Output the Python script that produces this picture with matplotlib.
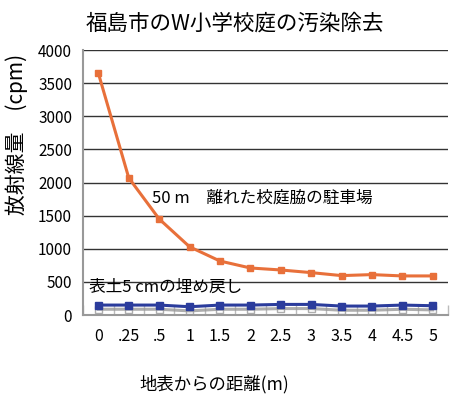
import numpy as np
import matplotlib
matplotlib.use("Agg")
import matplotlib.pyplot as plt
import matplotlib.patheffects as pe

plt.rcParams['font.family'] = ['Noto Sans CJK JP', 'DejaVu Sans']

# datos
distancias = ["0", ".25", ".5", "1", "1.5", "2", "2.5", "3", "3.5", "4", "4.5", "5"]
estacionamiento = [3650, 2070, 1450, 1030, 815, 710, 680, 640, 595, 610, 590, 590]
relleno = [150, 150, 150, 125, 150, 150, 160, 160, 135, 135, 150, 140]

titulo = "福島市のW小学校庭の汚染除去"
nota_naranja = "50 m　離れた校庭脇の駐車場"
nota_azul = "表土5 cmの埋め戻し"

fig = plt.figure(figsize=(4.52, 3.99), dpi=100)
ax = fig.add_axes([0.184, 0.2105, 0.807, 0.664])

x = np.arange(len(distancias))

# líneas de cuadrícula horizontales
ax.set_ylim(0, 4000)
ax.set_yticks(np.arange(0, 4001, 500))
ax.grid(axis='y', color='#333333', linewidth=1.0)
ax.set_axisbelow(True)

ax.plot(x, estacionamiento, color='#E8703A', linewidth=2.2, marker='s',
        markersize=5, zorder=3)
ax.plot(x, relleno, color='#2B3C9C', linewidth=2.2, marker='s',
        markersize=5, zorder=3,
        path_effects=[pe.SimpleLineShadow(offset=(0, -3), shadow_color='#999999', alpha=0.8),
                      pe.Normal()])

ax.set_xlim(-0.5, len(distancias) - 0.5)
ax.set_xticks(x)
ax.set_xticklabels(distancias)
ax.set_xticks(np.arange(-0.5, len(distancias), 1), minor=True)
ax.tick_params(axis='x', which='major', length=0, pad=9, labelsize=11.5)
ax.tick_params(axis='x', which='minor', direction='in', length=7, color='#BBBBBB', width=1)
ax.tick_params(axis='y', length=0, pad=8, labelsize=11)

for lado in ['top', 'right']:
    ax.spines[lado].set_visible(False)
ax.spines['left'].set_color('#999999')
ax.spines['left'].set_linewidth(1.5)
ax.spines['bottom'].set_color('#999999')
ax.spines['bottom'].set_linewidth(1.5)

ax.text(1.77, 1765, nota_naranja, fontsize=12, va='center', ha='left')
ax.text(-0.3, 420, nota_azul, fontsize=12, va='center', ha='left')

ax.set_ylabel("放射線量　(cpm)", fontsize=15)
ax.yaxis.set_label_coords(-0.15, 0.68)
ax.set_xlabel("地表からの距離(m)", fontsize=12.5)
ax.xaxis.set_label_coords(0.36, -0.225)
fig.text(0.52, 0.94, titulo, fontsize=15.5, ha='center', va='center')

fig.savefig("out.png", dpi=100)
